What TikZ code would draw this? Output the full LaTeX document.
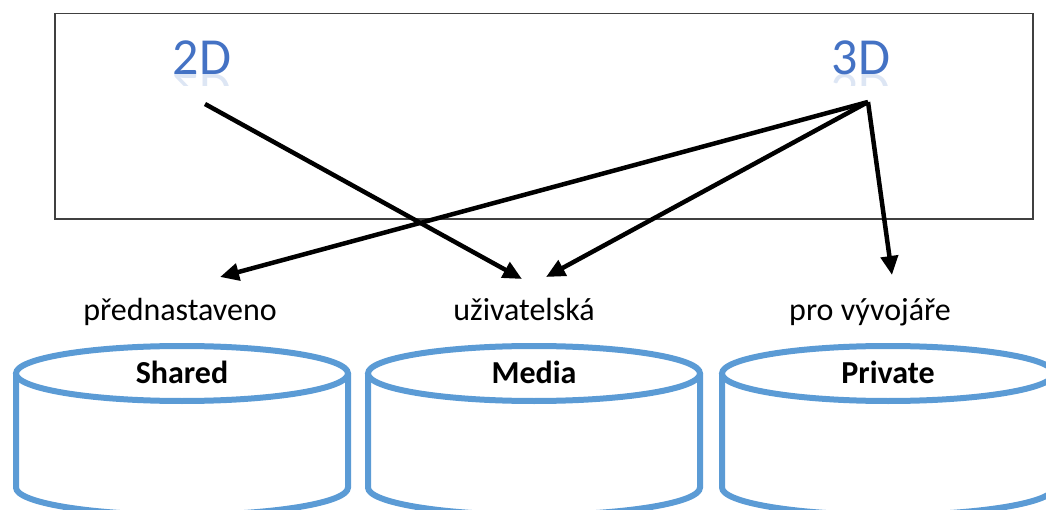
\documentclass[tikz,border=0pt]{standalone}
\usepackage{fontspec}
\setmainfont{Carlito}
\usetikzlibrary{arrows.meta}
\definecolor{storeblue}{RGB}{91,155,213}
\definecolor{wordblue}{RGB}{68,114,196}
\definecolor{framegray}{RGB}{64,64,64}
\tikzset{
  frame/.style={draw=framegray, line width=1.5pt, inner sep=0pt},
  word/.style={text=wordblue, font=\fontsize{52}{60}\selectfont, anchor=base, inner sep=0pt},
  caption/.style={font=\fontsize{32}{38}\selectfont, anchor=base, inner sep=0pt},
  storelabel/.style={font=\bfseries\fontsize{32}{38}\selectfont, anchor=base, inner sep=0pt},
  link/.style={line width=4.5pt, -{Triangle[length=19pt,width=17pt]}},
  storeline/.style={draw=storeblue, line width=6pt},
  store/.pic={
    \draw[storeline] (-166,0) -- (-166,114)
      arc[start angle=180, end angle=0, x radius=166, y radius=27.5] -- (166,0);
    \draw[storeline, fill=white] (0,0) ellipse[x radius=166, y radius=27.5];
    \node[storelabel] at (0,9.5) {#1};
  }
}
\begin{document}
\begin{tikzpicture}[x=1pt, y=-1pt]
\useasboundingbox (0,0) rectangle (1046,510);

% outer panel
\node[frame, minimum width=978pt, minimum height=205.5pt] (panel) at (544,116.25) {};

% the two view words with a faint mirrored reflection
\node[word] (twoD) at (202,75) {2D};
\node[word] (threeD) at (861,75) {3D};
\foreach \px/\w in {202/2D, 861/3D} {
  \begin{scope}
    \clip (\px-40,75) rectangle (\px+40,86);
    \begin{scope}[shift={(\px,75)}]
      \node[word, yscale=-1, transform shape, opacity=0.18] at (0,0) {\w};
    \end{scope}
  \end{scope}
}

% captions above the stores
\node[caption] (preset) at (180,320) {přednastaveno};
\node[caption] (user) at (524,320) {uživatelská};
\node[caption] (dev) at (870,320) {pro vývojáře};

% data stores
\pic at (182,373.5) {store=Shared};
\pic at (534,373.5) {store=Media};
\pic at (888,373.5) {store=Private};

% arrow ends
\coordinate (src2) at (205,104);
\coordinate (src3) at (868,102);
\coordinate (tipPreset) at (220,277);
\coordinate (tipUser2) at (522,279);
\coordinate (tipUser3) at (546,277);
\coordinate (tipDev) at (892,275);

\draw[link] (src2) -- (tipUser2);
\draw[link] (src3) -- (tipPreset);
\draw[link] (src3) -- (tipUser3);
\draw[link, line join=round] (src3) -- (tipDev);
\end{tikzpicture}
\end{document}
